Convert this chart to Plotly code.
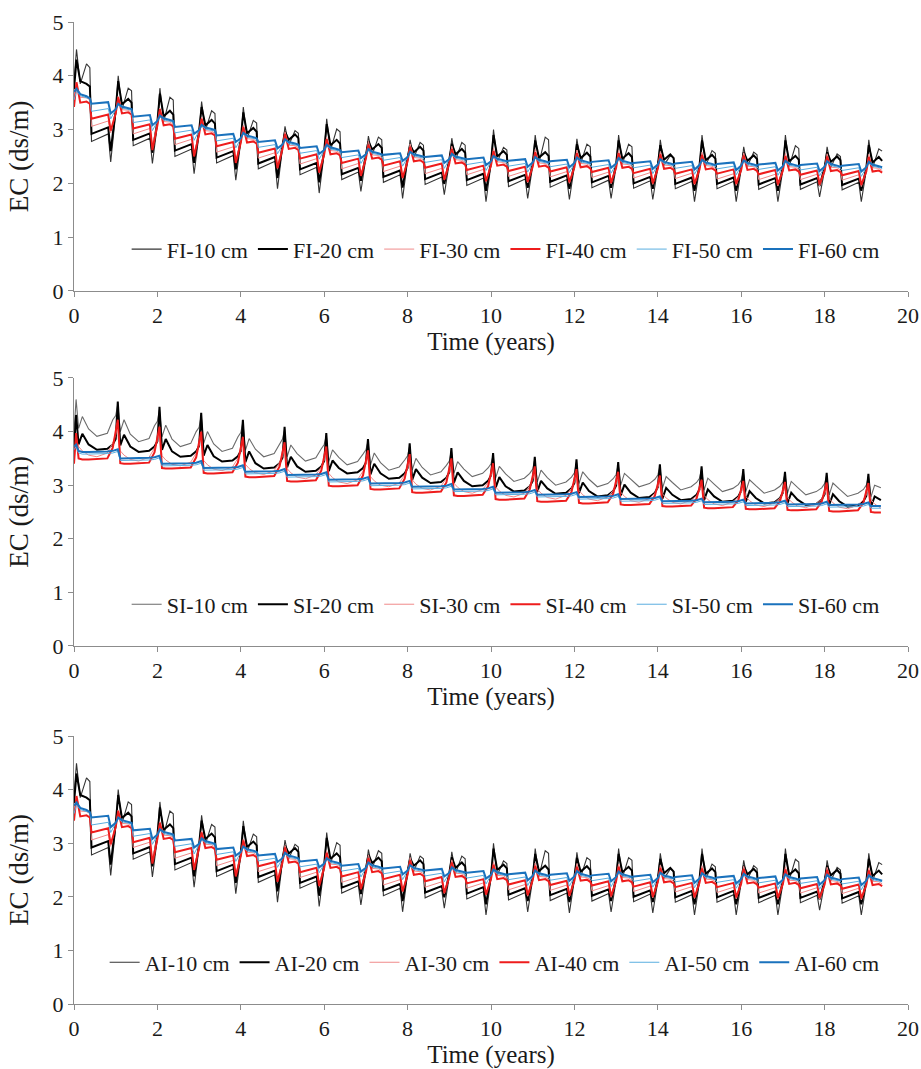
import plotly.graph_objects as go

# ---------------- phases inside each year (fraction of year) ----------------
FI_PHASE = [0.00, 0.06, 0.15, 0.30, 0.38, 0.42, 0.82, 0.88]
SI_PHASE = [0.00, 0.05, 0.11, 0.20, 0.35, 0.55, 0.80, 0.93]

# ---------------- FI (and AI) series: one row per year ----------------
FI_10 = [
    [3.90, 4.49, 3.85, 4.22, 4.15, 2.78, 2.92, 2.40],
    [3.30, 4.00, 3.37, 3.77, 3.72, 2.70, 2.84, 2.37],
    [3.10, 3.77, 3.15, 3.60, 3.55, 2.50, 2.64, 2.18],
    [2.93, 3.52, 2.98, 3.35, 3.30, 2.38, 2.52, 2.06],
    [2.78, 3.42, 2.83, 3.17, 3.12, 2.27, 2.41, 1.90],
    [2.66, 3.06, 2.71, 2.98, 2.93, 2.16, 2.30, 1.82],
    [2.56, 3.20, 2.61, 3.01, 2.96, 2.07, 2.21, 1.85],
    [2.48, 2.88, 2.53, 2.86, 2.81, 2.02, 2.16, 1.72],
    [2.43, 2.81, 2.48, 2.76, 2.71, 1.98, 2.12, 1.79],
    [2.39, 2.84, 2.44, 2.76, 2.71, 1.96, 2.10, 1.66],
    [2.35, 3.00, 2.40, 2.67, 2.62, 1.94, 2.08, 1.72],
    [2.33, 2.90, 2.38, 2.86, 2.81, 1.93, 2.07, 1.70],
    [2.32, 2.83, 2.37, 2.73, 2.68, 1.92, 2.06, 1.72],
    [2.31, 2.90, 2.36, 2.73, 2.68, 1.91, 2.05, 1.70],
    [2.29, 2.81, 2.34, 2.52, 2.47, 1.90, 2.04, 1.66],
    [2.28, 2.90, 2.33, 2.61, 2.56, 1.90, 2.04, 1.66],
    [2.27, 2.68, 2.32, 2.58, 2.53, 1.89, 2.03, 1.66],
    [2.26, 2.90, 2.31, 2.70, 2.65, 1.89, 2.03, 1.75],
    [2.25, 2.68, 2.30, 2.55, 2.50, 1.88, 2.02, 1.66],
    [2.24, 2.81, 2.29, 2.64, 2.60],
]
FI_20 = [
    [3.75, 4.30, 3.90, 3.85, 3.80, 2.92, 3.04, 2.60],
    [3.37, 3.90, 3.47, 3.57, 3.50, 2.81, 2.93, 2.57],
    [3.15, 3.67, 3.25, 3.35, 3.28, 2.61, 2.73, 2.38],
    [2.98, 3.42, 3.08, 3.18, 3.11, 2.48, 2.60, 2.26],
    [2.83, 3.32, 2.93, 3.03, 2.96, 2.37, 2.49, 2.10],
    [2.71, 2.96, 2.81, 2.91, 2.84, 2.26, 2.38, 2.02],
    [2.61, 3.10, 2.71, 2.81, 2.74, 2.17, 2.29, 2.05],
    [2.53, 2.78, 2.63, 2.73, 2.66, 2.12, 2.24, 1.92],
    [2.48, 2.71, 2.58, 2.68, 2.61, 2.08, 2.20, 1.99],
    [2.44, 2.74, 2.54, 2.64, 2.57, 2.06, 2.18, 1.86],
    [2.40, 2.90, 2.50, 2.60, 2.53, 2.04, 2.16, 1.92],
    [2.38, 2.80, 2.48, 2.58, 2.51, 2.03, 2.15, 1.90],
    [2.37, 2.73, 2.47, 2.57, 2.50, 2.02, 2.14, 1.92],
    [2.36, 2.80, 2.46, 2.56, 2.49, 2.00, 2.12, 1.90],
    [2.34, 2.71, 2.44, 2.54, 2.47, 1.99, 2.11, 1.86],
    [2.33, 2.80, 2.43, 2.53, 2.46, 1.99, 2.11, 1.86],
    [2.32, 2.58, 2.42, 2.52, 2.45, 1.98, 2.10, 1.86],
    [2.31, 2.80, 2.41, 2.51, 2.44, 1.98, 2.10, 1.95],
    [2.30, 2.58, 2.40, 2.50, 2.43, 1.97, 2.09, 1.86],
    [2.29, 2.71, 2.39, 2.49, 2.42],
]
FI_30 = [
    [3.50, 3.85, 3.60, 3.59, 3.55, 3.06, 3.16, 2.94],
    [3.32, 3.62, 3.37, 3.36, 3.32, 2.92, 3.02, 2.72],
    [3.10, 3.40, 3.15, 3.14, 3.10, 2.72, 2.82, 2.55],
    [2.93, 3.23, 2.98, 2.97, 2.93, 2.58, 2.68, 2.42],
    [2.78, 3.08, 2.83, 2.82, 2.78, 2.47, 2.57, 2.33],
    [2.66, 2.96, 2.71, 2.70, 2.66, 2.36, 2.46, 2.24],
    [2.56, 2.86, 2.61, 2.60, 2.56, 2.27, 2.37, 2.15],
    [2.48, 2.78, 2.53, 2.52, 2.48, 2.22, 2.32, 2.10],
    [2.43, 2.73, 2.48, 2.47, 2.43, 2.18, 2.28, 2.06],
    [2.39, 2.69, 2.44, 2.43, 2.39, 2.16, 2.26, 2.04],
    [2.35, 2.65, 2.40, 2.39, 2.35, 2.13, 2.23, 2.01],
    [2.33, 2.63, 2.38, 2.37, 2.33, 2.12, 2.22, 2.00],
    [2.32, 2.62, 2.37, 2.36, 2.32, 2.11, 2.21, 1.99],
    [2.31, 2.61, 2.36, 2.35, 2.31, 2.10, 2.20, 1.98],
    [2.29, 2.59, 2.34, 2.33, 2.29, 2.09, 2.19, 1.97],
    [2.28, 2.58, 2.33, 2.32, 2.28, 2.08, 2.18, 1.96],
    [2.27, 2.57, 2.32, 2.31, 2.27, 2.07, 2.17, 1.95],
    [2.26, 2.56, 2.31, 2.30, 2.26, 2.07, 2.17, 1.95],
    [2.25, 2.55, 2.30, 2.29, 2.25, 2.06, 2.16, 1.94],
    [2.24, 2.54, 2.29, 2.28, 2.24],
]
FI_40 = [
    [3.42, 3.88, 3.50, 3.52, 3.48, 3.20, 3.28, 2.98],
    [3.30, 3.60, 3.30, 3.32, 3.28, 3.02, 3.10, 2.62],
    [3.08, 3.38, 3.08, 3.10, 3.06, 2.83, 2.91, 2.50],
    [2.91, 3.20, 2.91, 2.93, 2.89, 2.69, 2.77, 2.38],
    [2.76, 3.05, 2.76, 2.78, 2.74, 2.57, 2.65, 2.28],
    [2.64, 2.92, 2.64, 2.66, 2.62, 2.46, 2.54, 2.20],
    [2.54, 2.82, 2.54, 2.56, 2.52, 2.38, 2.46, 2.14],
    [2.46, 2.72, 2.46, 2.48, 2.44, 2.33, 2.41, 2.10],
    [2.41, 2.68, 2.41, 2.43, 2.39, 2.29, 2.37, 2.07],
    [2.37, 2.64, 2.37, 2.39, 2.35, 2.25, 2.33, 2.04],
    [2.33, 2.60, 2.33, 2.35, 2.31, 2.23, 2.31, 2.03],
    [2.31, 2.58, 2.31, 2.33, 2.29, 2.22, 2.30, 2.02],
    [2.30, 2.56, 2.30, 2.32, 2.28, 2.21, 2.29, 2.01],
    [2.29, 2.56, 2.29, 2.31, 2.27, 2.19, 2.27, 2.00],
    [2.27, 2.54, 2.27, 2.29, 2.25, 2.18, 2.26, 1.99],
    [2.26, 2.53, 2.26, 2.28, 2.24, 2.18, 2.26, 1.99],
    [2.25, 2.52, 2.25, 2.27, 2.23, 2.17, 2.25, 1.98],
    [2.24, 2.51, 2.24, 2.26, 2.22, 2.16, 2.24, 1.98],
    [2.23, 2.50, 2.23, 2.25, 2.21, 2.15, 2.23, 1.97],
    [2.22, 2.49, 2.22, 2.24, 2.20],
]
FI_50 = [
    [3.55, 3.72, 3.63, 3.60, 3.57, 3.34, 3.39, 3.20],
    [3.36, 3.46, 3.40, 3.38, 3.36, 3.13, 3.18, 2.98],
    [3.14, 3.24, 3.18, 3.16, 3.14, 2.94, 2.99, 2.80],
    [2.97, 3.07, 3.01, 2.99, 2.97, 2.79, 2.84, 2.66],
    [2.82, 2.92, 2.86, 2.84, 2.82, 2.67, 2.72, 2.55],
    [2.70, 2.80, 2.74, 2.72, 2.70, 2.56, 2.61, 2.45],
    [2.60, 2.70, 2.64, 2.62, 2.60, 2.48, 2.53, 2.37],
    [2.52, 2.62, 2.56, 2.54, 2.52, 2.43, 2.48, 2.32],
    [2.47, 2.57, 2.51, 2.49, 2.47, 2.39, 2.44, 2.28],
    [2.43, 2.53, 2.47, 2.45, 2.43, 2.35, 2.40, 2.24],
    [2.39, 2.49, 2.43, 2.41, 2.39, 2.32, 2.37, 2.21],
    [2.37, 2.47, 2.41, 2.39, 2.37, 2.31, 2.36, 2.20],
    [2.36, 2.46, 2.40, 2.38, 2.36, 2.30, 2.35, 2.19],
    [2.35, 2.45, 2.39, 2.37, 2.35, 2.29, 2.34, 2.18],
    [2.33, 2.43, 2.37, 2.35, 2.33, 2.28, 2.33, 2.17],
    [2.32, 2.42, 2.36, 2.34, 2.32, 2.27, 2.32, 2.16],
    [2.31, 2.41, 2.35, 2.33, 2.31, 2.26, 2.31, 2.15],
    [2.30, 2.40, 2.34, 2.32, 2.30, 2.25, 2.30, 2.14],
    [2.29, 2.39, 2.33, 2.31, 2.29, 2.24, 2.29, 2.13],
    [2.28, 2.38, 2.32, 2.30, 2.28],
]
FI_60 = [
    [3.70, 3.76, 3.66, 3.62, 3.58, 3.48, 3.51, 3.30],
    [3.38, 3.48, 3.43, 3.40, 3.38, 3.24, 3.27, 3.08],
    [3.16, 3.26, 3.21, 3.18, 3.16, 3.05, 3.08, 2.92],
    [2.99, 3.09, 3.04, 3.01, 2.99, 2.89, 2.92, 2.77],
    [2.84, 2.94, 2.89, 2.86, 2.84, 2.77, 2.80, 2.65],
    [2.72, 2.82, 2.77, 2.74, 2.72, 2.66, 2.69, 2.55],
    [2.62, 2.72, 2.67, 2.64, 2.62, 2.58, 2.61, 2.47],
    [2.54, 2.64, 2.59, 2.56, 2.54, 2.53, 2.56, 2.42],
    [2.49, 2.59, 2.54, 2.51, 2.49, 2.49, 2.52, 2.38],
    [2.45, 2.55, 2.50, 2.47, 2.45, 2.45, 2.48, 2.34],
    [2.41, 2.51, 2.46, 2.43, 2.41, 2.42, 2.45, 2.31],
    [2.39, 2.49, 2.44, 2.41, 2.39, 2.41, 2.44, 2.30],
    [2.38, 2.48, 2.43, 2.40, 2.38, 2.40, 2.43, 2.29],
    [2.37, 2.47, 2.42, 2.39, 2.37, 2.38, 2.41, 2.27],
    [2.35, 2.45, 2.40, 2.37, 2.35, 2.37, 2.40, 2.26],
    [2.34, 2.44, 2.39, 2.36, 2.34, 2.36, 2.39, 2.25],
    [2.33, 2.43, 2.38, 2.35, 2.33, 2.35, 2.38, 2.24],
    [2.32, 2.42, 2.37, 2.34, 2.32, 2.34, 2.37, 2.23],
    [2.31, 2.41, 2.36, 2.33, 2.31, 2.33, 2.36, 2.22],
    [2.30, 2.40, 2.35, 2.32, 2.30],
]

# ---------------- SI series: one row per year ----------------
SI_10 = [
    [4.00, 4.60, 4.06, 4.28, 4.05, 3.91, 3.97, 4.22],
    [4.30, 4.51, 4.00, 4.22, 3.95, 3.81, 3.87, 4.11],
    [4.19, 4.41, 3.90, 4.12, 3.86, 3.72, 3.78, 4.00],
    [4.08, 4.30, 3.78, 4.00, 3.77, 3.63, 3.69, 3.90],
    [3.98, 4.17, 3.65, 3.87, 3.67, 3.53, 3.59, 3.78],
    [3.86, 4.04, 3.53, 3.75, 3.59, 3.45, 3.51, 3.68],
    [3.76, 3.92, 3.44, 3.66, 3.52, 3.38, 3.44, 3.58],
    [3.66, 3.81, 3.38, 3.60, 3.42, 3.28, 3.34, 3.47],
    [3.55, 3.73, 3.28, 3.50, 3.33, 3.19, 3.25, 3.37],
    [3.45, 3.64, 3.22, 3.44, 3.30, 3.16, 3.22, 3.32],
    [3.40, 3.55, 3.13, 3.35, 3.21, 3.07, 3.13, 3.22],
    [3.30, 3.48, 3.06, 3.28, 3.14, 3.00, 3.06, 3.15],
    [3.23, 3.43, 3.03, 3.25, 3.11, 2.97, 3.03, 3.12],
    [3.20, 3.38, 3.00, 3.22, 3.11, 2.97, 3.03, 3.11],
    [3.19, 3.34, 2.94, 3.16, 3.05, 2.91, 2.97, 3.05],
    [3.13, 3.30, 2.91, 3.13, 3.02, 2.88, 2.94, 3.01],
    [3.09, 3.25, 2.88, 3.10, 2.99, 2.85, 2.91, 2.98],
    [3.06, 3.20, 2.85, 3.07, 2.96, 2.82, 2.88, 2.95],
    [3.03, 3.18, 2.82, 3.04, 2.93, 2.79, 2.85, 2.92],
    [3.00, 3.16, 2.78, 3.00, 2.95],
]
SI_20 = [
    [3.70, 4.31, 3.76, 3.96, 3.76, 3.66, 3.68, 3.76],
    [3.86, 4.56, 3.74, 3.94, 3.72, 3.62, 3.64, 3.72],
    [3.82, 4.46, 3.66, 3.86, 3.63, 3.53, 3.55, 3.63],
    [3.73, 4.35, 3.55, 3.75, 3.54, 3.44, 3.46, 3.54],
    [3.64, 4.22, 3.43, 3.63, 3.41, 3.31, 3.33, 3.41],
    [3.51, 4.09, 3.33, 3.53, 3.35, 3.25, 3.27, 3.35],
    [3.45, 3.97, 3.26, 3.46, 3.32, 3.22, 3.24, 3.32],
    [3.42, 3.86, 3.20, 3.40, 3.22, 3.12, 3.14, 3.22],
    [3.32, 3.78, 3.10, 3.30, 3.14, 3.04, 3.06, 3.14],
    [3.24, 3.69, 3.04, 3.24, 3.08, 2.98, 3.00, 3.08],
    [3.18, 3.60, 2.95, 3.15, 2.98, 2.88, 2.90, 2.98],
    [3.08, 3.53, 2.88, 3.08, 2.94, 2.84, 2.86, 2.94],
    [3.04, 3.48, 2.85, 3.05, 2.89, 2.79, 2.81, 2.89],
    [2.99, 3.43, 2.81, 3.01, 2.86, 2.76, 2.78, 2.86],
    [2.96, 3.39, 2.75, 2.95, 2.82, 2.72, 2.74, 2.82],
    [2.92, 3.35, 2.72, 2.92, 2.79, 2.69, 2.71, 2.79],
    [2.89, 3.30, 2.69, 2.89, 2.76, 2.66, 2.68, 2.76],
    [2.86, 3.25, 2.66, 2.86, 2.73, 2.63, 2.65, 2.73],
    [2.83, 3.23, 2.63, 2.83, 2.70, 2.60, 2.62, 2.70],
    [2.80, 3.21, 2.59, 2.79, 2.72],
]
SI_30 = [
    [3.45, 3.87, 3.72, 3.64, 3.56, 3.53, 3.60, 3.79],
    [3.94, 4.12, 3.64, 3.56, 3.48, 3.45, 3.52, 3.69],
    [3.83, 3.99, 3.55, 3.47, 3.39, 3.36, 3.43, 3.60],
    [3.74, 3.90, 3.46, 3.38, 3.30, 3.27, 3.34, 3.50],
    [3.64, 3.80, 3.39, 3.31, 3.23, 3.20, 3.27, 3.42],
    [3.55, 3.70, 3.31, 3.23, 3.15, 3.12, 3.19, 3.34],
    [3.47, 3.62, 3.22, 3.14, 3.06, 3.03, 3.10, 3.26],
    [3.39, 3.55, 3.16, 3.08, 3.00, 2.97, 3.04, 3.19],
    [3.32, 3.48, 3.10, 3.02, 2.94, 2.91, 2.98, 3.13],
    [3.25, 3.40, 3.04, 2.96, 2.88, 2.85, 2.92, 3.05],
    [3.17, 3.31, 2.97, 2.89, 2.81, 2.78, 2.85, 2.99],
    [3.11, 3.25, 2.93, 2.85, 2.77, 2.74, 2.81, 2.94],
    [3.06, 3.20, 2.90, 2.82, 2.74, 2.71, 2.78, 2.90],
    [3.02, 3.15, 2.87, 2.79, 2.71, 2.68, 2.75, 2.85],
    [2.96, 3.08, 2.84, 2.76, 2.68, 2.65, 2.72, 2.80],
    [2.89, 3.00, 2.81, 2.73, 2.65, 2.62, 2.69, 2.78],
    [2.87, 2.98, 2.79, 2.71, 2.63, 2.60, 2.67, 2.76],
    [2.85, 2.96, 2.77, 2.69, 2.61, 2.58, 2.65, 2.74],
    [2.84, 2.95, 2.75, 2.67, 2.59, 2.56, 2.63, 2.73],
    [2.82, 2.94, 2.73, 2.65, 2.57],
]
SI_40 = [
    [3.40, 3.97, 3.50, 3.48, 3.48, 3.49, 3.50, 3.70],
    [4.00, 4.22, 3.41, 3.40, 3.40, 3.41, 3.42, 3.61],
    [3.88, 4.09, 3.32, 3.31, 3.31, 3.32, 3.33, 3.52],
    [3.79, 4.00, 3.23, 3.22, 3.22, 3.23, 3.24, 3.42],
    [3.70, 3.90, 3.16, 3.15, 3.15, 3.16, 3.17, 3.35],
    [3.61, 3.80, 3.08, 3.07, 3.07, 3.08, 3.09, 3.27],
    [3.53, 3.72, 2.99, 2.98, 2.98, 2.99, 3.00, 3.18],
    [3.45, 3.65, 2.93, 2.92, 2.92, 2.93, 2.94, 3.12],
    [3.38, 3.58, 2.87, 2.86, 2.86, 2.87, 2.88, 3.05],
    [3.31, 3.50, 2.81, 2.80, 2.80, 2.81, 2.82, 2.98],
    [3.23, 3.41, 2.74, 2.73, 2.73, 2.74, 2.75, 2.92],
    [3.16, 3.35, 2.70, 2.69, 2.69, 2.70, 2.71, 2.87],
    [3.12, 3.30, 2.67, 2.66, 2.66, 2.67, 2.68, 2.84],
    [3.07, 3.25, 2.64, 2.63, 2.63, 2.64, 2.65, 2.80],
    [3.02, 3.18, 2.61, 2.60, 2.60, 2.61, 2.62, 2.75],
    [2.95, 3.10, 2.58, 2.57, 2.57, 2.58, 2.59, 2.72],
    [2.93, 3.08, 2.56, 2.55, 2.55, 2.56, 2.57, 2.70],
    [2.91, 3.06, 2.54, 2.53, 2.53, 2.54, 2.55, 2.69],
    [2.89, 3.05, 2.52, 2.51, 2.51, 2.52, 2.53, 2.67],
    [2.88, 3.04, 2.50, 2.49, 2.49],
]
SI_50 = [
    [3.66, 3.72, 3.60, 3.58, 3.58, 3.58, 3.59, 3.60],
    [3.61, 3.63, 3.46, 3.46, 3.46, 3.46, 3.47, 3.48],
    [3.49, 3.51, 3.36, 3.36, 3.36, 3.36, 3.37, 3.38],
    [3.39, 3.41, 3.28, 3.28, 3.28, 3.28, 3.29, 3.30],
    [3.31, 3.33, 3.21, 3.21, 3.21, 3.21, 3.22, 3.23],
    [3.24, 3.26, 3.15, 3.15, 3.15, 3.15, 3.16, 3.17],
    [3.18, 3.20, 3.06, 3.06, 3.06, 3.06, 3.07, 3.08],
    [3.09, 3.11, 2.99, 2.99, 2.99, 2.99, 3.00, 3.01],
    [3.02, 3.04, 2.93, 2.93, 2.93, 2.93, 2.94, 2.95],
    [2.96, 2.98, 2.88, 2.88, 2.88, 2.88, 2.89, 2.90],
    [2.91, 2.93, 2.82, 2.82, 2.82, 2.82, 2.83, 2.84],
    [2.85, 2.87, 2.78, 2.78, 2.78, 2.78, 2.79, 2.80],
    [2.81, 2.83, 2.74, 2.74, 2.74, 2.74, 2.75, 2.76],
    [2.77, 2.79, 2.70, 2.70, 2.70, 2.70, 2.71, 2.72],
    [2.73, 2.75, 2.66, 2.66, 2.66, 2.66, 2.67, 2.68],
    [2.69, 2.71, 2.64, 2.64, 2.64, 2.64, 2.65, 2.66],
    [2.67, 2.69, 2.62, 2.62, 2.62, 2.62, 2.63, 2.64],
    [2.65, 2.67, 2.60, 2.60, 2.60, 2.60, 2.61, 2.62],
    [2.63, 2.65, 2.59, 2.59, 2.59, 2.59, 2.60, 2.61],
    [2.62, 2.64, 2.57, 2.57, 2.57],
]
SI_60 = [
    [3.72, 3.76, 3.64, 3.62, 3.62, 3.62, 3.63, 3.64],
    [3.65, 3.67, 3.50, 3.50, 3.50, 3.50, 3.51, 3.52],
    [3.53, 3.55, 3.40, 3.40, 3.40, 3.40, 3.41, 3.42],
    [3.43, 3.45, 3.32, 3.32, 3.32, 3.32, 3.33, 3.34],
    [3.35, 3.37, 3.25, 3.25, 3.25, 3.25, 3.26, 3.27],
    [3.28, 3.30, 3.19, 3.19, 3.19, 3.19, 3.20, 3.21],
    [3.22, 3.24, 3.10, 3.10, 3.10, 3.10, 3.11, 3.12],
    [3.13, 3.15, 3.03, 3.03, 3.03, 3.03, 3.04, 3.05],
    [3.06, 3.08, 2.97, 2.97, 2.97, 2.97, 2.98, 2.99],
    [3.00, 3.02, 2.92, 2.92, 2.92, 2.92, 2.93, 2.94],
    [2.95, 2.97, 2.86, 2.86, 2.86, 2.86, 2.87, 2.88],
    [2.89, 2.91, 2.82, 2.82, 2.82, 2.82, 2.83, 2.84],
    [2.85, 2.87, 2.78, 2.78, 2.78, 2.78, 2.79, 2.80],
    [2.81, 2.83, 2.74, 2.74, 2.74, 2.74, 2.75, 2.76],
    [2.77, 2.79, 2.70, 2.70, 2.70, 2.70, 2.71, 2.72],
    [2.73, 2.75, 2.68, 2.68, 2.68, 2.68, 2.69, 2.70],
    [2.71, 2.73, 2.66, 2.66, 2.66, 2.66, 2.67, 2.68],
    [2.69, 2.71, 2.64, 2.64, 2.64, 2.64, 2.65, 2.66],
    [2.67, 2.69, 2.63, 2.63, 2.63, 2.63, 2.64, 2.65],
    [2.66, 2.68, 2.61, 2.61, 2.61],
]

DEPTHS = ["10 cm", "20 cm", "30 cm", "40 cm", "50 cm", "60 cm"]
PANELS = ["FI", "SI", "AI"]
X_TICKS = [0, 2, 4, 6, 8, 10, 12, 14, 16, 18, 20]
Y_TICKS = [0, 1, 2, 3, 4, 5]

FI_SET = [FI_10, FI_20, FI_30, FI_40, FI_50, FI_60]
SI_SET = [SI_10, SI_20, SI_30, SI_40, SI_50, SI_60]
AI_SET = FI_SET  # AI panel is drawn with the same readings as FI


def flatten(rows, phases):
    xs, ys = [], []
    for year, row in enumerate(rows):
        for i, v in enumerate(row):
            xs.append(year + phases[i])
            ys.append(v)
    return xs, ys


COLORS_FI = ["#333333", "#000000", "#f08a8a", "#ee1c1c", "#5aaee0", "#1a72bd"]
COLORS_SI = ["#6a6a6a", "#000000", "#f08a8a", "#ee1c1c", "#5aaee0", "#1a72bd"]
WIDTHS = [1.1, 2, 1, 2, 1, 2]

FONT = "Liberation Serif, Times New Roman, serif"
TXT = "#1a1a1a"

fig = go.Figure()
sets = [(FI_SET, FI_PHASE, COLORS_FI), (SI_SET, SI_PHASE, COLORS_SI), (AI_SET, FI_PHASE, COLORS_FI)]
for p, (series_set, phases, colors) in enumerate(sets):
    ax = "" if p == 0 else str(p + 1)
    for j, rows in enumerate(series_set):
        xs, ys = flatten(rows, phases)
        fig.add_trace(go.Scatter(
            x=xs, y=ys, mode="lines",
            name=f"{PANELS[p]}-{DEPTHS[j]}",
            line=dict(color=colors[j], width=WIDTHS[j]),
            xaxis="x" + ax, yaxis="y" + ax,
            legend="legend" + ax,
        ))

# geometry (paper fractions)
doms = [(0.7261, 1.0), (0.3646, 0.6375), (0.0, 0.2729)]
axis_common = dict(showline=True, linecolor="#8c8c8c", linewidth=1, ticks="outside",
                   ticklen=5, tickcolor="#8c8c8c", showgrid=False, zeroline=False,
                   automargin=False,
                   tickfont=dict(family=FONT, size=22, color=TXT))
layout = dict(
    width=921, height=1069,
    margin=dict(l=74, r=13, t=22, b=65, autoexpand=False),
    paper_bgcolor="white", plot_bgcolor="white",
    font=dict(family=FONT, size=22, color=TXT),
)
for p in range(3):
    ax = "" if p == 0 else str(p + 1)
    layout["xaxis" + ax] = dict(axis_common, domain=[0, 1], range=[0, 20], tickvals=X_TICKS,
                                anchor="y" + ax,
                                title=dict(text="Time (years)", font=dict(family=FONT, size=25, color=TXT), standoff=2))
    layout["yaxis" + ax] = dict(axis_common, domain=list(doms[p]), range=[0, 5], tickvals=Y_TICKS,
                                anchor="x" + ax,
                                title=dict(text="EC (ds/m)", font=dict(family=FONT, size=27, color=TXT), standoff=16))
    ymid = doms[p][0] + (doms[p][1] - doms[p][0]) * 0.155
    layout["legend" + ax] = dict(orientation="h", x=0.972, xanchor="right", y=ymid, yanchor="middle",
                                 bgcolor="rgba(0,0,0,0)", font=dict(family=FONT, size=22, color=TXT),
                                 itemwidth=30, tracegroupgap=0)

fig.update_layout(**layout)
fig.write_html("out.html", config={"displayModeBar": False},
               post_script="document.body.style.margin='0';document.body.style.overflow='hidden';")
